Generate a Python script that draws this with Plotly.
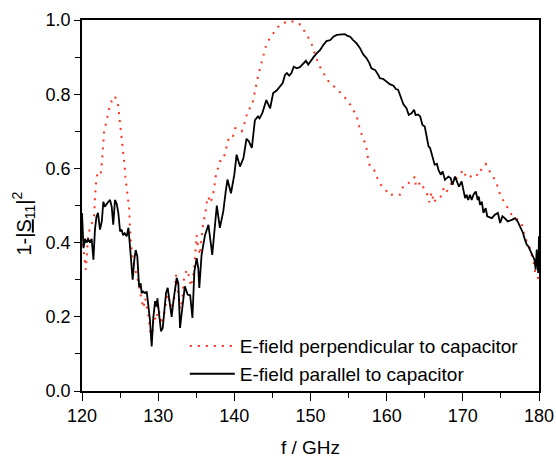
import plotly.graph_objects as go

# ---------------- data ----------------
black_f = [120.0, 120.2, 120.4, 120.6, 120.8, 121.05, 121.27, 121.5, 121.7, 121.9, 122.1, 122.36, 122.6, 122.8,
           123.0, 123.24, 123.46, 123.68, 123.9, 124.1, 124.33, 124.55, 124.77, 125.0, 125.2, 125.4, 125.6, 125.87,
           126.1, 126.3, 126.5, 126.65, 126.87, 127.05, 127.26, 127.4, 127.5, 127.7, 127.83, 128.0, 128.27, 128.5,
           128.7, 128.93, 129.15, 129.37, 129.6, 129.8, 129.9, 130.15, 130.37, 130.6, 130.8, 131.03, 131.25, 131.55,
           131.77, 132.0, 132.2, 132.43, 132.65, 132.87, 133.17, 133.5, 133.87, 134.2, 134.5, 134.75, 135.06, 135.27,
           135.4, 135.7, 136.15, 136.6, 137.1, 137.4, 137.7, 138.1, 138.55, 138.87, 139.1, 139.56, 140.0, 140.3,
           140.74, 141.2, 141.6, 141.9, 142.3, 142.7, 143.1, 143.3, 143.67, 144.0, 144.2, 144.7, 145.1, 145.56,
           146.0, 146.35, 146.65, 146.9, 147.2, 147.5, 147.8, 148.2, 148.6, 149.05, 149.4, 149.7, 150.0, 150.4,
           150.8, 151.25, 151.7, 152.1, 152.6, 153.0, 153.44, 154.1, 154.5, 154.8, 155.2, 155.6, 156.05, 156.5,
           156.9, 157.36, 157.7, 158.0, 158.5, 158.9, 159.1, 159.56, 160.0, 160.4, 160.9, 161.2, 161.5, 161.9,
           162.2, 162.6, 162.9, 163.3, 163.6, 163.8, 164.15, 164.4, 164.7, 165.0, 165.25, 165.5, 165.7, 165.9,
           166.1, 166.3, 166.6, 166.8, 167.1, 167.35, 167.65, 168.1, 168.4, 168.65, 168.97, 169.2, 169.5, 169.84,
           170.05, 170.3, 170.5, 170.7, 170.94, 171.16, 171.4, 171.7, 171.95, 172.1, 172.25, 172.5, 172.7, 173.0,
           173.2, 173.8, 174.2, 174.6, 174.9, 175.2, 175.5, 175.9, 176.5, 176.85, 177.2, 177.5, 177.9, 178.15,
           178.4, 178.6, 178.8, 179.1, 179.4, 179.56, 179.7, 179.8, 179.9, 180.0]
black_v = [0.48, 0.385, 0.41, 0.40, 0.41, 0.40, 0.41, 0.354, 0.435, 0.47, 0.48, 0.435, 0.457, 0.51,
           0.497, 0.505, 0.51, 0.515, 0.497, 0.448, 0.515, 0.505, 0.48, 0.43, 0.435, 0.42, 0.425, 0.417,
           0.44, 0.39, 0.327, 0.30, 0.354, 0.38, 0.363, 0.327, 0.28, 0.29, 0.264, 0.268, 0.264, 0.268,
           0.228, 0.19, 0.12, 0.20, 0.242, 0.228, 0.25, 0.20, 0.161, 0.17, 0.22, 0.264, 0.278, 0.228,
           0.20, 0.242, 0.273, 0.305, 0.29, 0.17, 0.224, 0.282, 0.26, 0.258, 0.197, 0.322, 0.358, 0.33,
           0.278, 0.367, 0.42, 0.448, 0.367, 0.44, 0.50, 0.44, 0.484, 0.538, 0.57, 0.533, 0.583, 0.637,
           0.605, 0.628, 0.68, 0.673, 0.655, 0.73, 0.74, 0.735, 0.749, 0.771, 0.784, 0.762, 0.803, 0.81,
           0.82, 0.83, 0.852, 0.857, 0.85, 0.857, 0.874, 0.87, 0.873, 0.883, 0.89, 0.88, 0.89, 0.90,
           0.91, 0.919, 0.933, 0.943, 0.946, 0.955, 0.96, 0.962, 0.962, 0.958, 0.955, 0.946, 0.937, 0.924,
           0.908, 0.897, 0.885, 0.87, 0.865, 0.852, 0.843, 0.841, 0.834, 0.827, 0.823, 0.814, 0.812, 0.789,
           0.773, 0.762, 0.744, 0.749, 0.758, 0.744, 0.745, 0.74, 0.717, 0.713, 0.682, 0.659, 0.655, 0.637,
           0.619, 0.61, 0.612, 0.596, 0.583, 0.592, 0.569, 0.578, 0.574, 0.556, 0.578, 0.565, 0.551, 0.565,
           0.542, 0.52, 0.529, 0.515, 0.529, 0.515, 0.529, 0.538, 0.515, 0.524, 0.502, 0.51, 0.48, 0.493,
           0.471, 0.466, 0.475, 0.48, 0.453, 0.471, 0.466, 0.457, 0.462, 0.466, 0.457, 0.444, 0.426, 0.408,
           0.394, 0.39, 0.381, 0.367, 0.354, 0.327, 0.381, 0.345, 0.318, 0.417]

red_f = [120.0, 120.2, 120.4, 120.5, 120.8, 121.05, 121.4, 121.6, 121.7, 121.84, 122.05, 122.45, 122.6, 122.7,
         122.8, 122.9, 123.2, 123.5, 123.9, 124.3, 124.7, 124.86, 125.0, 125.2, 125.34, 125.47, 125.6, 125.7,
         125.87, 126.1, 126.2, 126.25, 126.3, 126.4, 126.7, 127.0, 127.26, 127.5, 127.6, 127.8, 128.05, 128.3,
         128.7, 128.9, 129.15, 129.4, 129.8, 130.0, 130.4, 130.8, 131.2, 131.77, 132.0, 132.2, 132.34, 132.6,
         132.9, 133.17, 133.4, 133.75, 134.05, 134.3, 134.6, 134.75, 134.9, 135.06, 135.2, 135.5, 135.6, 135.7,
         135.9, 136.2, 136.4, 136.6, 136.8, 137.1, 137.37, 137.55, 137.8, 138.1, 138.55, 138.86, 139.2, 139.7,
         140.1, 140.5, 140.97, 141.4, 141.8, 142.3, 142.6, 142.8, 143.15, 143.5, 143.9, 144.25, 145.0, 146.0,
         147.3, 148.5, 149.5, 150.15, 150.7, 151.25, 151.8, 152.5, 153.4, 154.3, 154.9, 155.3, 156.05, 156.4,
         156.85, 157.3, 157.5, 157.8, 158.35, 158.9, 159.4, 159.87, 160.4, 160.96, 161.75, 162.2, 162.85, 163.3,
         163.7, 163.85, 164.5, 164.9, 165.25, 165.6, 165.9, 166.2, 166.65, 167.1, 167.5, 167.8, 168.5, 168.97,
         169.6, 170.05, 170.5, 171.0, 171.6, 172.0, 172.5, 173.0, 173.65, 174.35, 174.8, 175.3, 175.9, 176.5,
         177.2, 177.7, 178.15, 178.7, 179.35, 179.56, 180.0]
red_v = [0.417, 0.385, 0.356, 0.327, 0.417, 0.44, 0.457, 0.475, 0.52, 0.56, 0.589, 0.585, 0.612, 0.641,
         0.67, 0.698, 0.726, 0.756, 0.782, 0.795, 0.778, 0.75, 0.72, 0.692, 0.663, 0.635, 0.606, 0.577,
         0.549, 0.52, 0.49, 0.46, 0.43, 0.403, 0.35, 0.327, 0.305, 0.287, 0.269, 0.25, 0.224, 0.25,
         0.206, 0.17, 0.13, 0.20, 0.19, 0.23, 0.18, 0.21, 0.26, 0.228, 0.24, 0.26, 0.313, 0.27,
         0.22, 0.25, 0.305, 0.327, 0.309, 0.282, 0.309, 0.34, 0.372, 0.42, 0.394, 0.367, 0.394, 0.42,
         0.45, 0.48, 0.51, 0.524, 0.507, 0.52, 0.547, 0.578, 0.596, 0.619, 0.623, 0.65, 0.677, 0.677,
         0.708, 0.708, 0.70, 0.726, 0.758, 0.767, 0.798, 0.825, 0.852, 0.879, 0.908, 0.937, 0.961, 0.988,
         0.998, 0.991, 0.961, 0.935, 0.90, 0.874, 0.854, 0.83, 0.816, 0.796, 0.782, 0.769, 0.742, 0.713,
         0.683, 0.662, 0.632, 0.605, 0.596, 0.567, 0.551, 0.542, 0.527, 0.531, 0.529, 0.554, 0.56, 0.567,
         0.578, 0.55, 0.563, 0.545, 0.535, 0.509, 0.536, 0.507, 0.524, 0.524, 0.547, 0.535, 0.56, 0.569,
         0.583, 0.596, 0.574, 0.578, 0.587, 0.58, 0.60, 0.612, 0.587, 0.565, 0.535, 0.514, 0.491, 0.472,
         0.462, 0.453, 0.412, 0.392, 0.341, 0.311, 0.302]

red_name = "E-field perpendicular to capacitor"
black_name = "E-field parallel to capacitor"
x_ticks = [120, 130, 140, 150, 160, 170, 180]
y_ticks = [0.0, 0.2, 0.4, 0.6, 0.8, 1.0]
y_tick_labels = ["0.0", "0.2", "0.4", "0.6", "0.8", "1.0"]

FONT = "Liberation Sans, Arial, sans-serif"

fig = go.Figure()
fig.add_trace(go.Scatter(x=red_f, y=red_v, mode="lines", name=red_name,
                         line=dict(color="rgb(255,50,30)", width=2, dash="2px,6px")))
fig.add_trace(go.Scatter(x=black_f, y=black_v, mode="lines", name=black_name,
                         line=dict(color="black", width=1.8)))

axis_common = dict(showline=True, linecolor="black", linewidth=1.5, mirror=True,
                   showgrid=False, zeroline=False, ticks="outside", tickcolor="black",
                   tickwidth=1.2, automargin=False,
                   tickfont=dict(family=FONT, size=18, color="black"))

fig.update_xaxes(range=[120, 180], tickvals=x_ticks, ticklen=8,
                 minor=dict(dtick=5, ticklen=5, ticks="outside", tickcolor="black", tickwidth=1.2),
                 title=dict(text="f / GHz", font=dict(family=FONT, size=19, color="black"), standoff=25),
                 **axis_common)
fig.update_yaxes(range=[0, 1.0], tickvals=y_ticks, ticktext=y_tick_labels, ticklen=6,
                 minor=dict(dtick=0.1, ticklen=5, ticks="outside", tickcolor="black", tickwidth=1.2),
                 **axis_common)

fig.add_annotation(text="1-|<u>S</u><sub>11</sub>|<sup>2</sup>", xref="paper", yref="paper",
                   x=-0.128, y=0.45, xanchor="center", yanchor="middle", textangle=-90, showarrow=False,
                   font=dict(family=FONT, size=20, color="black"))

fig.update_layout(width=556, height=458, margin=dict(l=82, r=17, t=20, b=67, autoexpand=False),
                  paper_bgcolor="white", plot_bgcolor="white",
                  showlegend=True,
                  legend=dict(x=0.225, y=0.172, xanchor="left", yanchor="top",
                              bgcolor="rgba(0,0,0,0)", font=dict(family=FONT, size=19, color="black"),
                              tracegroupgap=0, itemwidth=45))

fig.write_html("out.html")
